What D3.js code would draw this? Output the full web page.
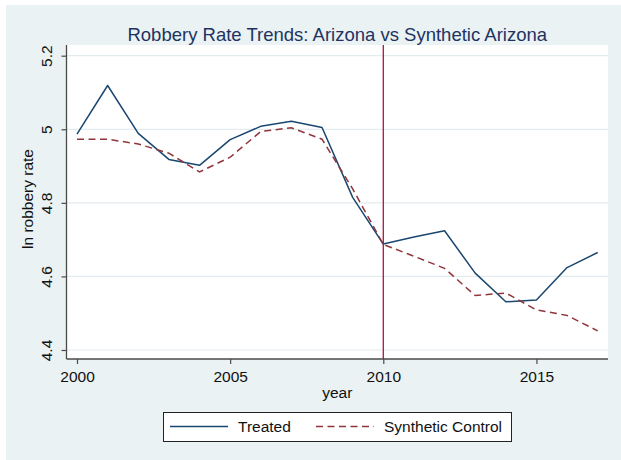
<!DOCTYPE html>
<html>
<head>
<meta charset="utf-8">
<script src="https://cdn.jsdelivr.net/npm/d3@7"></script>
<style>
  html, body { margin: 0; padding: 0; background: #ffffff; }
  svg { display: block; }
  text { font-family: "Liberation Sans", Arial, sans-serif; }
</style>
</head>
<body>
<script>
// Years and log robbery rates for Arizona and its synthetic counterpart
const years = [2000, 2001, 2002, 2003, 2004, 2005, 2006, 2007, 2008,
               2009, 2010, 2011, 2012, 2013, 2014, 2015, 2016, 2017];
const treated = [4.987, 5.119, 4.989, 4.918, 4.902, 4.972, 5.008, 5.022, 5.005,
                 4.815, 4.688, 4.707, 4.724, 4.609, 4.531, 4.536, 4.624, 4.665];
const synthetic = [4.973, 4.973, 4.960, 4.935, 4.884, 4.924, 4.994, 5.004, 4.973,
                   4.838, 4.687, 4.655, 4.622, 4.548, 4.555, 4.509, 4.494, 4.452];
const yTicks = [4.4, 4.6, 4.8, 5, 5.2];
const xTicks = [2000, 2005, 2010, 2015];
const treatmentYear = 2010;
const seriesNames = ["Treated", "Synthetic Control"];

const W = 621, H = 460;
const plot = { left: 66.5, right: 608, top: 45, bottom: 359 };

const svg = d3.select("body").append("svg")
  .attr("width", W).attr("height", H);

// graph region background
svg.append("rect").attr("x", 6).attr("y", 5)
  .attr("width", W - 6).attr("height", H - 5).attr("fill", "#eaf2f3");
// plot region
svg.append("rect").attr("x", plot.left).attr("y", plot.top)
  .attr("width", plot.right - plot.left).attr("height", plot.bottom - plot.top)
  .attr("fill", "#ffffff");

const x = d3.scaleLinear().domain([2000, 2017]).range([77, 597.7]);
const y = d3.scaleLinear().domain([4.4, 5.2]).range([350, 55.7]);

// horizontal grid
svg.append("g").selectAll("line").data(yTicks).join("line")
  .attr("x1", plot.left).attr("x2", plot.right)
  .attr("y1", d => y(d)).attr("y2", d => y(d))
  .attr("stroke", "#e3ecef").attr("stroke-width", 1.2);

// y axis
const yAxis = svg.append("g").attr("transform", `translate(${plot.left},0)`)
  .call(d3.axisLeft(y).tickValues(yTicks).tickSize(5).tickPadding(0)
    .tickFormat(d3.format("")));
yAxis.select(".domain").remove();
yAxis.append("line").attr("x1", 0).attr("x2", 0)
  .attr("y1", plot.top).attr("y2", plot.bottom)
  .attr("stroke", "#4a4a4a").attr("stroke-width", 1.3);
yAxis.selectAll(".tick line").attr("stroke", "#4a4a4a").attr("stroke-width", 1.2);
yAxis.selectAll(".tick text")
  .attr("x", null).attr("dy", null)
  .attr("text-anchor", "middle")
  .attr("transform", "translate(-14.5,0) rotate(-90)")
  .attr("font-size", "15.5px").attr("fill", "#111");

// x axis
const xAxis = svg.append("g").attr("transform", `translate(0,${plot.bottom})`)
  .call(d3.axisBottom(x).tickValues(xTicks).tickSize(5).tickPadding(0)
    .tickFormat(d3.format("d")));
xAxis.select(".domain").remove();
xAxis.append("line").attr("x1", plot.left).attr("x2", plot.right)
  .attr("y1", 0).attr("y2", 0)
  .attr("stroke", "#4a4a4a").attr("stroke-width", 1.3);
xAxis.selectAll(".tick line").attr("stroke", "#4a4a4a").attr("stroke-width", 1.2);
xAxis.selectAll(".tick text")
  .attr("y", 23).attr("dy", null)
  .attr("font-size", "15.5px").attr("fill", "#111");

// axis titles
svg.append("text").attr("x", (plot.left + plot.right) / 2).attr("y", 398)
  .attr("text-anchor", "middle").attr("font-size", "15.5px").attr("fill", "#111")
  .text("year");
svg.append("text").attr("transform", "translate(33,199) rotate(-90)")
  .attr("text-anchor", "middle").attr("font-size", "15.5px").attr("fill", "#111")
  .text("ln robbery rate");

// title
svg.append("text").attr("x", (plot.left + plot.right) / 2).attr("y", 41)
  .attr("text-anchor", "middle").attr("font-size", "18.5px").attr("fill", "#1e3262")
  .text("Robbery Rate Trends: Arizona vs Synthetic Arizona");

// series lines
const line = d3.line().x((d, i) => x(years[i])).y(d => y(d));
svg.append("path").datum(treated).attr("d", line)
  .attr("fill", "none").attr("stroke", "#1a476f").attr("stroke-width", 1.5)
  .attr("stroke-linejoin", "round");
svg.append("path").datum(synthetic).attr("d", line)
  .attr("fill", "none").attr("stroke", "#90353b").attr("stroke-width", 1.5)
  .attr("stroke-dasharray", "7,4.5");

// treatment year marker
svg.append("line").attr("x1", x(treatmentYear)).attr("x2", x(treatmentYear))
  .attr("y1", plot.top).attr("y2", plot.bottom)
  .attr("stroke", "#b01240").attr("stroke-width", 1.3);

// legend
const legend = svg.append("g");
legend.append("rect").attr("x", 163.5).attr("y", 412.5).attr("width", 348).attr("height", 29)
  .attr("fill", "#ffffff").attr("stroke", "#222").attr("stroke-width", 1);
const legendItems = [
  { name: seriesNames[0], color: "#1a476f", dash: null, x0: 170 },
  { name: seriesNames[1], color: "#90353b", dash: "7,4.5", x0: 316 }
];
legendItems.forEach(it => {
  legend.append("line").attr("x1", it.x0).attr("x2", it.x0 + 58)
    .attr("y1", 426.5).attr("y2", 426.5)
    .attr("stroke", it.color).attr("stroke-width", 1.5)
    .attr("stroke-dasharray", it.dash);
  legend.append("text").attr("x", it.x0 + 68).attr("y", 432)
    .attr("font-size", "15.5px").attr("fill", "#111").text(it.name);
});
</script>
</body>
</html>
